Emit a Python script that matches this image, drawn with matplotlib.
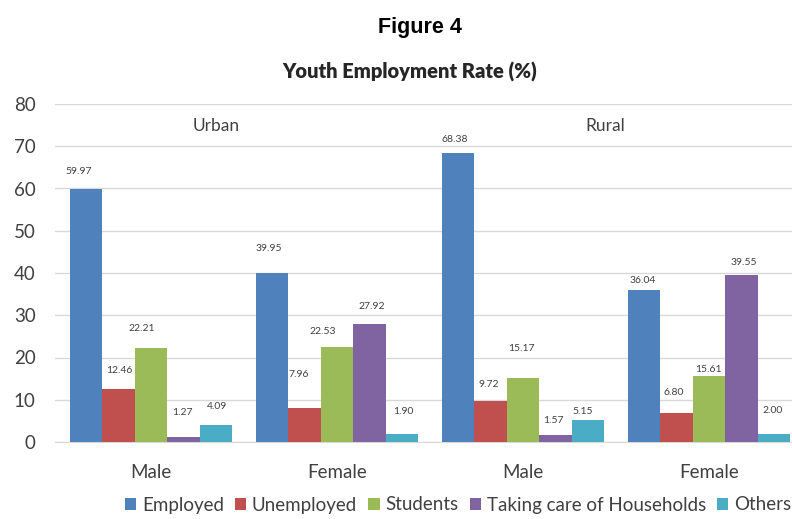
import matplotlib
matplotlib.use("Agg")
import matplotlib.pyplot as plt
import numpy as np

# ---- data ----
groups = ["Male", "Female", "Male", "Female"]
areas = ["Urban", "Rural"]
series = ["Employed", "Unemployed", "Students", "Taking care of Households", "Others"]
employed = [59.97, 39.95, 68.38, 36.04]
unemployed = [12.46, 7.96, 9.72, 6.80]
students = [22.21, 22.53, 15.17, 15.61]
households = [1.27, 27.92, 1.57, 39.55]
others = [4.09, 1.90, 5.15, 2.00]
yticks = [0, 10, 20, 30, 40, 50, 60, 70, 80]

# ---- style ----
colors = ["#4F81BD", "#C0504D", "#9BBB59", "#8064A2", "#4BACC6"]
# label offsets (pixels: dx, dy above bar top) per series x group
label_dx = [[-8, -3, -3, -2], [1, -6, -2, -3], [-9, -14, -2, -1], [-1, 2, -2, 2], [1, 2, -5, -1]]
label_dy = [[17, 25, 14, 9], [19, 34, 16, 21], [20, 15, 29, 7], [24, 18, 15, 12], [18, 22, 9, 23]]

W, H = 792, 519
fig = plt.figure(figsize=(W / 100, H / 100), dpi=100)
ax = fig.add_axes([55 / W, (H - 442) / H, (W - 55) / W, (442 - 104) / H])

values = [employed, unemployed, students, households, others]
x = np.arange(len(groups))
bw = 162 / 186 / 5
px = 0.72  # points per pixel

for i, (name, vals) in enumerate(zip(series, values)):
    pos = x + (i - 2) * bw
    ax.bar(pos, vals, width=bw, color=colors[i], label=name, zorder=3, linewidth=0)
    for j, (p, v) in enumerate(zip(pos, vals)):
        ax.annotate(f"{v:.2f}", (p, v), xytext=(label_dx[i][j] * px, label_dy[i][j] * px),
                    textcoords="offset points", ha="center", va="center",
                    fontsize=7.5, color="#404040", family="Lato", zorder=4)

ax.set_xlim(-(151 - 55) / 186, (792 - 151) / 186)
ax.set_ylim(0, 80)
ax.set_yticks(yticks)
ax.set_xticks(x)
ax.set_xticklabels(groups, family="Lato", fontsize=13.5, color="#404040")
ax.set_yticklabels([str(t) for t in yticks], family="Lato", fontsize=13.5, color="#404040")
ax.tick_params(axis="y", length=0, pad=14)
ax.tick_params(axis="x", length=0, pad=16)
ax.yaxis.grid(True, color="#D9D9D9", linewidth=1, zorder=0)
for s in ["top", "right", "left"]:
    ax.spines[s].set_visible(False)
ax.spines["bottom"].set_color("#D9D9D9")
ax.spines["bottom"].set_zorder(2)

# area labels
ax.text(0.35, 74.8, areas[0], ha="center", va="center", family="Lato", fontsize=12.5, color="#404040")
ax.text(2.44, 74.8, areas[1], ha="center", va="center", family="Lato", fontsize=12.5, color="#404040")

fig.text(420 / W, 1 - 28 / H, "Figure 4", ha="center", va="center",
         family="Liberation Sans", fontweight="bold", fontsize=15.5, color="black")
fig.text(410 / W, 1 - 72 / H, "Youth Employment Rate (%)", ha="center", va="center",
         family="Lato", fontweight="heavy", fontsize=14.5, color="#262626")

fig.legend(loc="center", bbox_to_anchor=(458 / W, 1 - 505 / H), ncol=5, frameon=False,
           prop={"family": "Lato", "size": 13.5}, handlelength=0.6, handleheight=0.6,
           handletextpad=0.3, columnspacing=0.6, labelcolor="#404040")

fig.savefig("out.png", dpi=100)
